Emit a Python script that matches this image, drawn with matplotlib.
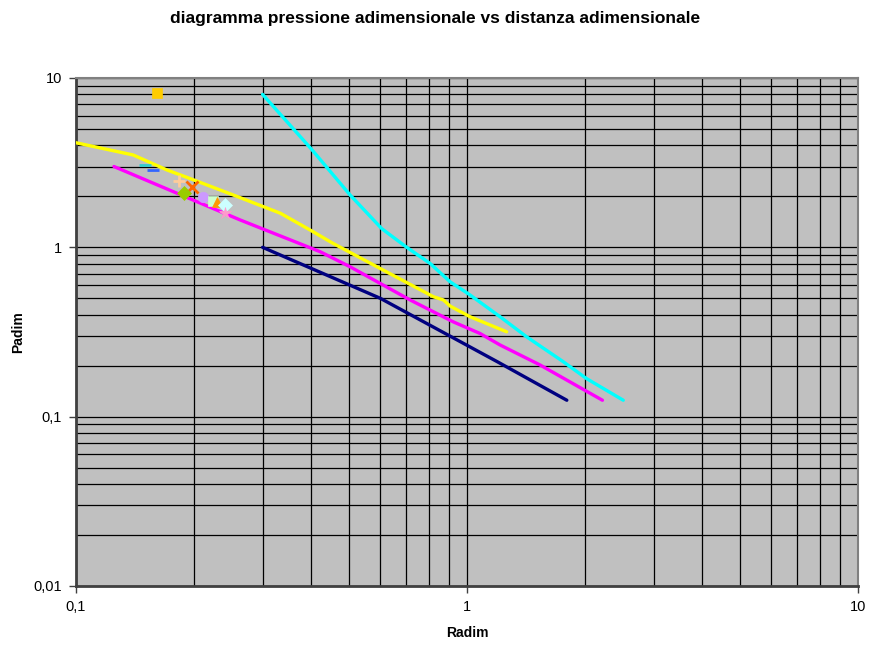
import matplotlib
matplotlib.use("Agg")
import matplotlib.pyplot as plt
from matplotlib.ticker import LogLocator, FixedLocator, NullFormatter

plt.rcParams['font.family'] = ['Liberation Sans', 'DejaVu Sans']

# Dimensionless radius / pressure curves
navy_r = [0.3, 0.6, 1.2, 1.8]
navy_p = [1.0, 0.5, 0.21, 0.125]

magenta_r = [0.125, 0.263, 0.421, 0.502, 0.599, 0.715, 0.922, 1.079, 1.215, 1.537, 2.22]
magenta_p = [3.0, 1.45, 0.942, 0.768, 0.613, 0.489, 0.363, 0.310, 0.265, 0.202, 0.125]

yellow_r = [0.095, 0.140, 0.171, 0.200, 0.252, 0.333, 0.397, 0.454, 0.599, 0.820, 0.870, 0.905, 1.018, 1.263]
yellow_p = [4.25, 3.51, 2.86, 2.50, 2.04, 1.59, 1.265, 1.056, 0.751, 0.511, 0.489, 0.45, 0.389, 0.317]

cyan_r = [0.3, 0.4, 0.502, 0.605, 0.701, 0.804, 0.905, 1.018, 1.215, 1.421, 1.763, 2.02, 2.51]
cyan_p = [8.0, 3.8, 2.04, 1.29, 1.0, 0.804, 0.626, 0.523, 0.389, 0.296, 0.211, 0.168, 0.125]

# Single measured points
pt_r = [0.161, 0.150, 0.157, 0.183, 0.198, 0.189, 0.211, 0.224, 0.229, 0.240, 0.240]
pt_p = [8.15, 3.06, 2.87, 2.46, 2.28, 2.08, 1.99, 1.88, 1.86, 1.78, 1.59]
pt_marker = ['s', '_', '_', '+', 'x', 'D', 'o', 's', '^', 'D', '*']
pt_color = ['#FFCC00', '#33CCCC', '#3366FF', '#FFCC99', '#FF6600', '#99CC00',
            '#CC99FF', '#CCFFCC', '#FF9900', '#CCFFFF', '#FF99CC']

x_ticks = [0.1, 1, 10]
x_labels = ['0,1', '1', '10']
y_ticks = [0.01, 0.1, 1, 10]
y_labels = ['0,01', '0,1', '1', '10']

fig = plt.figure(figsize=(8.7, 6.45), dpi=100)
ax = fig.add_axes([0.0874, 0.0915, 0.8988, 0.7876])
ax.set_facecolor('#C0C0C0')
ax.set_xscale('log')
ax.set_yscale('log')
ax.set_xlim(0.1, 10)
ax.set_ylim(0.01, 10)

# grid: every unit of each decade
ax.xaxis.set_minor_locator(LogLocator(base=10, subs=range(2, 10)))
ax.yaxis.set_minor_locator(LogLocator(base=10, subs=range(2, 10)))
ax.xaxis.set_minor_formatter(NullFormatter())
ax.yaxis.set_minor_formatter(NullFormatter())
ax.grid(True, which='both', color='black', linewidth=0.9)
ax.set_axisbelow(True)

ax.plot(navy_r, navy_p, color='#000080', lw=2.4, solid_capstyle='round', zorder=3)
ax.plot(magenta_r, magenta_p, color='#FF00FF', lw=2.4, solid_capstyle='round', zorder=3)
ax.plot(yellow_r, yellow_p, color='#FFFF00', lw=2.4, solid_capstyle='round', zorder=3)
ax.plot(cyan_r, cyan_p, color='#00FFFF', lw=2.4, solid_capstyle='round', zorder=3)

for r, p, m, c in zip(pt_r, pt_p, pt_marker, pt_color):
    size = 9 if m in ('_', '+', 'x', '*') else 7.5
    ax.plot([r], [p], marker=m, color=c, markersize=size,
            markeredgewidth=2 if m in ('_', '+', 'x') else 0.5,
            markeredgecolor=c, linestyle='none', zorder=4)

ax.xaxis.set_major_locator(FixedLocator(x_ticks))
ax.set_xticklabels(x_labels)
ax.yaxis.set_major_locator(FixedLocator(y_ticks))
ax.set_yticklabels(y_labels)
ax.tick_params(which='major', length=5, width=1, color='#404040', labelsize=10.5, pad=5)
ax.tick_params(which='minor', length=0)

for side in ('left', 'bottom'):
    ax.spines[side].set_color('#404040')
    ax.spines[side].set_linewidth(2)
for side in ('top', 'right'):
    ax.spines[side].set_color('#808080')
    ax.spines[side].set_linewidth(1.5)

fig.text(0.5, 0.972, 'diagramma pressione adimensionale vs distanza adimensionale',
         ha='center', va='center', fontsize=12.5, fontweight='bold')
ax.set_xlabel('Radim', fontsize=10, fontweight='bold', labelpad=9)
ax.set_ylabel('Padim', fontsize=10, fontweight='bold', labelpad=6)

fig.savefig('out.png', dpi=100)
